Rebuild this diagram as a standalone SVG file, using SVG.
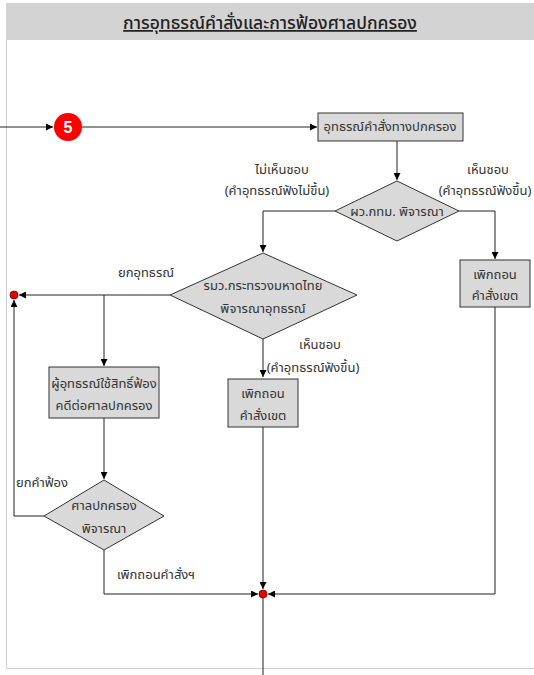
<svg xmlns="http://www.w3.org/2000/svg" width="534" height="675" viewBox="0 0 534 675">
<defs>
<marker id="arr" viewBox="0 0 10 10" refX="10" refY="5" markerWidth="7" markerHeight="7" markerUnits="userSpaceOnUse" orient="auto"><path d="M0,0 L10,5 L0,10 z" fill="#000"/></marker>
<style>
.t{font-family:"Noto Sans Thai","Tahoma","Noto Sans","DejaVu Sans",sans-serif;font-size:13px;fill:#333;text-anchor:middle}
.box{fill:#d9d9d9;stroke:#333;stroke-width:1}
.c{fill:none;stroke:#222;stroke-width:1}
.dot{fill:#e00;stroke:#600;stroke-width:0.8}
</style>
</defs>
<rect x="0" y="0" width="534" height="675" fill="#fff"/>
<rect x="6" y="3" width="540" height="37" fill="#d3d3d3"/>
<path d="M6.5,40 V668.5 H534" fill="none" stroke="#d0d0d0" stroke-width="1"/>
<text x="270" y="29" class="t" style="font-size:17.5px;font-weight:500;fill:#222;text-decoration:underline">การอุทธรณ์คำสั่งและการฟ้องศาลปกครอง</text>

<g id="connectors">
<path class="c" d="M0,127 H53" marker-end="url(#arr)"/>
<path class="c" d="M82,127 H317" marker-end="url(#arr)"/>
<path class="c" d="M397,141 V180" marker-end="url(#arr)"/>
<path class="c" d="M335,211 H263 V252" marker-end="url(#arr)"/>
<path class="c" d="M459,211 H495 V259" marker-end="url(#arr)"/>
<path class="c" d="M170,295 H19" marker-end="url(#arr)"/>
<path class="c" d="M104,295 V366" marker-end="url(#arr)"/>
<path class="c" d="M263,339 V377" marker-end="url(#arr)"/>
<path class="c" d="M104,418 V479" marker-end="url(#arr)"/>
<path class="c" d="M44,516 H14 V300" marker-end="url(#arr)"/>
<path class="c" d="M104,550 V594 H258" marker-end="url(#arr)"/>
<path class="c" d="M263,427 V589" marker-end="url(#arr)"/>
<path class="c" d="M495,307 V594 H268" marker-end="url(#arr)"/>
<path class="c" d="M263,598 V675"/>
<text x="282" y="174" class="t">ไม่เห็นชอบ</text>
<text x="277" y="195" class="t">(คำอุทธรณ์ฟังไม่ขึ้น)</text>
<text x="488" y="174" class="t">เห็นชอบ</text>
<text x="485" y="195" class="t">(คำอุทธรณ์ฟังขึ้น)</text>
<text x="146" y="277" class="t">ยกอุทธรณ์</text>
<text x="320" y="349" class="t">เห็นชอบ</text>
<text x="313" y="372" class="t">(คำอุทธรณ์ฟังขึ้น)</text>
<text x="42" y="487" class="t">ยกคำฟ้อง</text>
<text x="156" y="579" class="t">เพิกถอนคำสั่งฯ</text>
</g>

<g id="start5">
<circle cx="68" cy="127" r="14" fill="#f00"/>
<text x="68" y="133" class="t" style="font-family:'Liberation Sans',sans-serif;font-size:16px;font-weight:bold;fill:#fff">5</text>
</g>
<g id="appeal">
<rect class="box" x="318" y="113" width="145" height="28"/>
<text x="390" y="131" class="t">อุทธรณ์คำสั่งทางปกครอง</text>
</g>
<g id="governor">
<polygon class="box" points="397,181 459,211 397,241 335,211"/>
<text x="397" y="216" class="t">ผว.กทม. พิจารณา</text>
</g>
<g id="revoke1">
<rect class="box" x="460" y="260" width="70" height="47"/>
<text x="495" y="279" class="t">เพิกถอน</text>
<text x="495" y="300" class="t">คำสั่งเขต</text>
</g>
<g id="minister">
<polygon class="box" points="263,253 357,295 263,339 170,295"/>
<text x="263" y="290" class="t">รมว.กระทรวงมหาดไทย</text>
<text x="263" y="313" class="t">พิจารณาอุทธรณ์</text>
</g>
<g id="sue">
<rect class="box" x="49" y="367" width="110" height="51"/>
<text x="104" y="388" class="t">ผู้อุทธรณ์ใช้สิทธิ์ฟ้อง</text>
<text x="104" y="410" class="t">คดีต่อศาลปกครอง</text>
</g>
<g id="revoke2">
<rect class="box" x="228" y="379" width="70" height="48"/>
<text x="263" y="398" class="t">เพิกถอน</text>
<text x="263" y="420" class="t">คำสั่งเขต</text>
</g>
<g id="court">
<polygon class="box" points="104,480 164,516 104,550 44,516"/>
<text x="104" y="510" class="t">ศาลปกครอง</text>
<text x="104" y="533" class="t">พิจารณา</text>
</g>
<g id="dots">
<circle class="dot" cx="14" cy="295" r="4"/>
<circle class="dot" cx="263" cy="594" r="4"/>
</g>
</svg>
